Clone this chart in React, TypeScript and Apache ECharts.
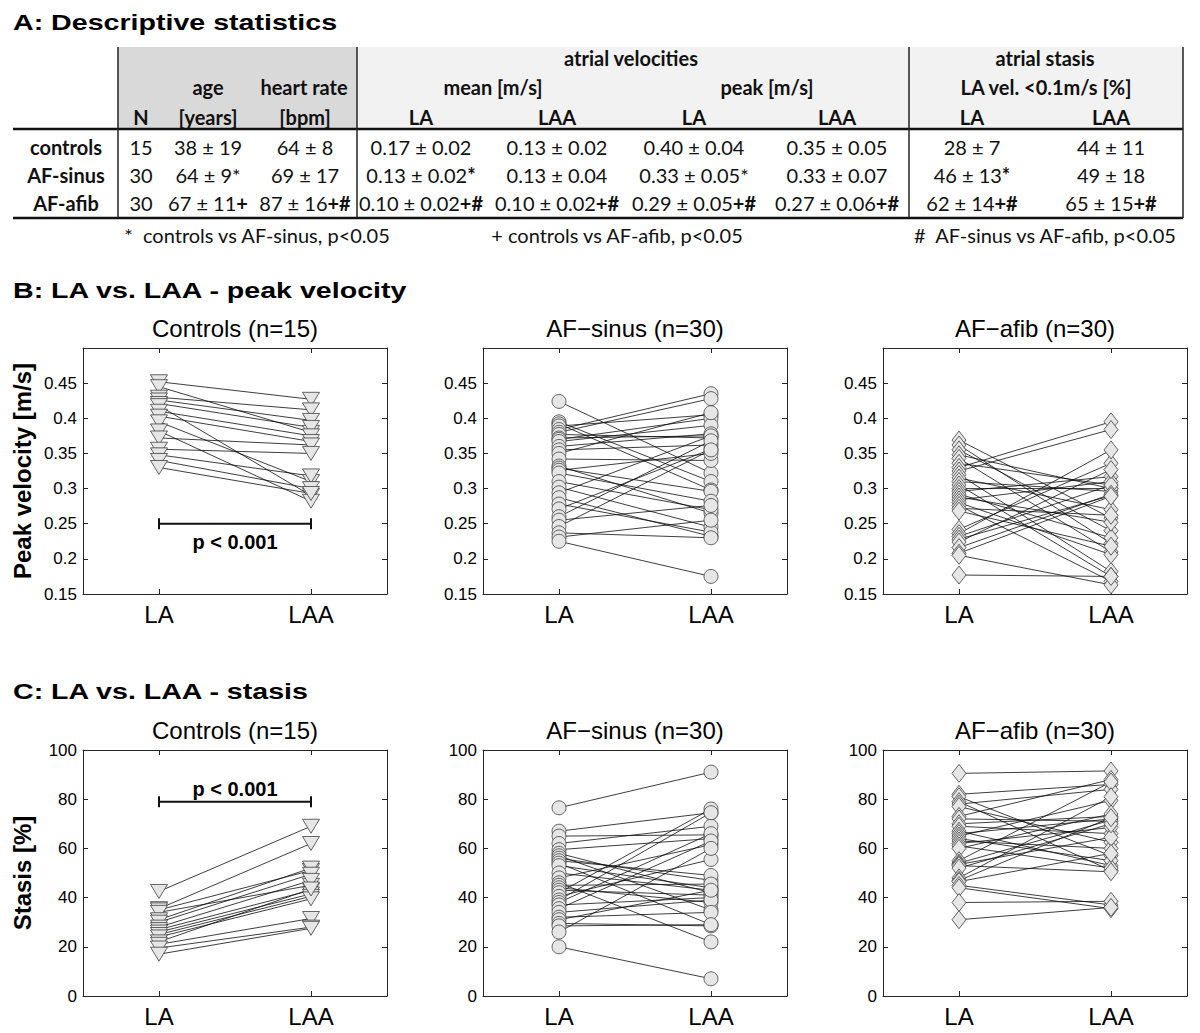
import React, { useEffect, useRef } from "react";
import * as echarts from "echarts";

// ---------------- DATA ----------------
const SITES = ["LA", "LAA"];
const GROUP_TITLES = ["Controls (n=15)", "AF\u2212sinus (n=30)", "AF\u2212afib (n=30)"];
const SECTION_TITLES = ["A: Descriptive statistics", "B: LA vs. LAA - peak velocity", "C: LA vs. LAA - stasis"];
const Y_TITLES = ["Peak velocity [m/s]", "Stasis [%]"];
const P_LABEL = "p < 0.001";
const P_BAR_VALUES = [0.25, 79];

// B: peak velocity [m/s]
const PEAK_CONTROLS_LA = [0.452, 0.445, 0.430, 0.426, 0.421, 0.418, 0.410, 0.403, 0.395, 0.382, 0.372, 0.356, 0.348, 0.340, 0.330];
const PEAK_CONTROLS_LAA = [0.427, 0.380, 0.412, 0.397, 0.387, 0.290, 0.375, 0.367, 0.310, 0.282, 0.362, 0.350, 0.318, 0.300, 0.293];
const PEAK_SINUS_LA = [0.424, 0.395, 0.392, 0.389, 0.384, 0.380, 0.377, 0.372, 0.370, 0.367, 0.360, 0.355, 0.350, 0.342, 0.332, 0.329, 0.326, 0.322, 0.310, 0.302, 0.294, 0.287, 0.278, 0.271, 0.260, 0.255, 0.246, 0.237, 0.231, 0.225];
const PEAK_SINUS_LAA = [0.322, 0.310, 0.298, 0.405, 0.435, 0.428, 0.372, 0.375, 0.400, 0.390, 0.378, 0.362, 0.408, 0.340, 0.265, 0.296, 0.350, 0.282, 0.270, 0.245, 0.375, 0.232, 0.238, 0.356, 0.368, 0.276, 0.355, 0.230, 0.255, 0.175];
const PEAK_AFIB_LA = [0.369, 0.362, 0.355, 0.348, 0.343, 0.336, 0.330, 0.325, 0.320, 0.315, 0.310, 0.305, 0.300, 0.296, 0.292, 0.288, 0.284, 0.280, 0.276, 0.272, 0.268, 0.242, 0.236, 0.232, 0.228, 0.224, 0.216, 0.208, 0.205, 0.177];
const PEAK_AFIB_LAA = [0.258, 0.222, 0.240, 0.300, 0.210, 0.305, 0.395, 0.384, 0.182, 0.270, 0.296, 0.175, 0.300, 0.317, 0.230, 0.252, 0.310, 0.206, 0.168, 0.262, 0.218, 0.336, 0.355, 0.305, 0.290, 0.327, 0.292, 0.289, 0.163, 0.175];

// C: stasis [%]
const STASIS_CONTROLS_LA = [42.5, 35.5, 35, 34, 31, 30, 28, 27, 26, 25, 24, 22, 21, 19.5, 17];
const STASIS_CONTROLS_LAA = [69, 62, 51, 45, 52, 49.5, 47, 43, 41.5, 40.5, 39.5, 43.5, 31.5, 28, 27.5];
const STASIS_SINUS_LA = [76.5, 67, 65, 62, 59.5, 58, 57, 56, 55, 54, 53, 50, 48, 46, 45, 44, 43, 42, 40.5, 39, 38, 37, 35.5, 34, 32, 31, 29.5, 28.5, 26, 20];
const STASIS_SINUS_LAA = [91, 74.5, 65.5, 69, 64, 42, 35, 47, 49, 29, 44, 43, 61.5, 22, 45.5, 38, 41, 76, 55.5, 74.5, 66, 40, 63, 39, 34, 43, 28.5, 29, 60, 7];
const STASIS_AFIB_LA = [90.5, 82, 81, 79, 78, 77, 73, 72, 70, 69, 67, 66, 65, 64, 63, 62, 61, 60, 55, 54, 53.5, 53, 52, 48, 47, 46.5, 45, 44, 38, 31];
const STASIS_AFIB_LAA = [91.5, 86, 57, 51, 84, 62.5, 88, 71, 73, 66, 53, 72, 79.5, 55, 60, 68.5, 52, 74, 87, 71.5, 64.5, 50.5, 70, 81, 72.5, 58, 37, 35.5, 38.5, 36];

// A: table
const TABLE_GROUPS = ["controls", "AF-sinus", "AF-afib"];
const TABLE_N = ["15", "30", "30"];
const AGE = ["38 ± 19", "64 ± 9", "67 ± 11"];
const AGE_SIG = ["", "*", "+"];
const HEART_RATE = ["64 ± 8", "69 ± 17", "87 ± 16"];
const HEART_RATE_SIG = ["", "", "+#"];
const MEAN_LA = ["0.17 ± 0.02", "0.13 ± 0.02", "0.10 ± 0.02"];
const MEAN_LA_SIG = ["", "*", "+#"];
const MEAN_LAA = ["0.13 ± 0.02", "0.13 ± 0.04", "0.10 ± 0.02"];
const MEAN_LAA_SIG = ["", "", "+#"];
const PEAK_LA = ["0.40 ± 0.04", "0.33 ± 0.05", "0.29 ± 0.05"];
const PEAK_LA_SIG = ["", "*", "+#"];
const PEAK_LAA = ["0.35 ± 0.05", "0.33 ± 0.07", "0.27 ± 0.06"];
const PEAK_LAA_SIG = ["", "", "+#"];
const STASIS_LA = ["28 ± 7", "46 ± 13", "62 ± 14"];
const STASIS_LA_SIG = ["", "*", "+#"];
const STASIS_LAA = ["44 ± 11", "49 ± 18", "65 ± 15"];
const STASIS_LAA_SIG = ["", "", "+#"];
const HEAD_ROW1 = ["atrial velocities", "atrial stasis"];
const HEAD_ROW2 = ["age", "heart rate", "mean [m/s]", "peak [m/s]", "LA vel. <0.1m/s [%]"];
const HEAD_ROW3 = ["N", "[years]", "[bpm]", "LA", "LAA", "LA", "LAA", "LA", "LAA"];
const FOOTNOTES = ["*  controls vs AF-sinus, p<0.05", "+ controls vs AF-afib, p<0.05", "#  AF-sinus vs AF-afib, p<0.05"];

// ---------------- LAYOUT / STYLE ----------------
const AX_FONT = "'Liberation Sans', Arial, Helvetica, sans-serif";
const TB_FONT = "Lato, 'Open Sans', sans-serif";
const PANEL_LEFTS = [83, 483, 883];
const PANEL_W = 304;
const PANEL_H = 246;
const ROW_TOPS = [348, 750];
const SECTION_Y = [22, 290, 691];
const TITLE_SCALE_X = 1.3;

const H1_X = [631, 1045];
const H2_X = [208, 304, 493, 767, 1046];
const H3_X = [141, 208, 305, 421, 557, 694, 837, 972, 1111];
const HEAD_Y = [58, 87, 117];
const ROW_Y = [147, 175, 203];
const FOOT_Y = 235;
const FOOT_X = [257, 617, 1045];
const TABLE_L = 13, TABLE_R = 1183, TABLE_TOP = 47, HEAD_BOTTOM = 129, TABLE_BOTTOM = 218;
const VLINES = [118, 357, 909, 1183];
const TB_SIZE = 20;

const MARKERS = [
  { symbol: "triangle", symbolSize: [17, 14], symbolRotate: 180 },
  { symbol: "circle", symbolSize: 14, symbolRotate: 0 },
  { symbol: "diamond", symbolSize: [14, 18], symbolRotate: 0 },
];

const PANELS = [
  { row: 0, col: 0, la: PEAK_CONTROLS_LA, laa: PEAK_CONTROLS_LAA },
  { row: 0, col: 1, la: PEAK_SINUS_LA, laa: PEAK_SINUS_LAA },
  { row: 0, col: 2, la: PEAK_AFIB_LA, laa: PEAK_AFIB_LAA },
  { row: 1, col: 0, la: STASIS_CONTROLS_LA, laa: STASIS_CONTROLS_LAA },
  { row: 1, col: 1, la: STASIS_SINUS_LA, laa: STASIS_SINUS_LAA },
  { row: 1, col: 2, la: STASIS_AFIB_LA, laa: STASIS_AFIB_LAA },
];

const Y_SCALES = [
  { min: 0.15, max: 0.5, interval: 0.05, fmt: (v: number) => (v > 0.49 ? "" : String(Number(v.toFixed(2)))) },
  { min: 0, max: 100, interval: 20, fmt: (v: number) => String(Math.round(v)) },
];

function buildOption() {
  const grid: any[] = [];
  const xAxis: any[] = [];
  const yAxis: any[] = [];
  const series: any[] = [];
  const graphic: any[] = [];

  const lineCol = "#262626";

  PANELS.forEach((p, i) => {
    grid.push({ left: PANEL_LEFTS[p.col], top: ROW_TOPS[p.row], width: PANEL_W, height: PANEL_H, containLabel: false });
    const xBase = {
      type: "category", gridIndex: i, data: SITES, boundaryGap: true,
      axisLine: { show: true, onZero: false, lineStyle: { color: lineCol, width: 1 } },
      axisTick: { show: true, inside: true, alignWithLabel: true, length: 5, lineStyle: { color: lineCol } },
      splitLine: { show: false },
    };
    xAxis.push({ ...xBase, position: "bottom", axisLabel: { show: true, fontSize: 24, color: "#000", fontFamily: AX_FONT, margin: 8 } });
    xAxis.push({ ...xBase, position: "top", axisLabel: { show: false } });
    const ys = Y_SCALES[p.row];
    const yBase = {
      type: "value", gridIndex: i, min: ys.min, max: ys.max, interval: ys.interval,
      axisLine: { show: true, lineStyle: { color: lineCol, width: 1 } },
      axisTick: { show: true, inside: true, length: 5, lineStyle: { color: lineCol } },
      splitLine: { show: false },
    };
    yAxis.push({ ...yBase, position: "left", axisLabel: { show: true, fontSize: 17, color: "#000", fontFamily: AX_FONT, margin: 6, formatter: ys.fmt } });
    yAxis.push({ ...yBase, position: "right", axisLabel: { show: false } });

    const m = MARKERS[p.col];
    p.la.forEach((v, k) => {
      series.push({
        type: "line", xAxisIndex: 2 * i, yAxisIndex: 2 * i, silent: true,
        data: [[SITES[0], v], [SITES[1], p.laa[k]]],
        symbol: m.symbol, symbolSize: m.symbolSize, symbolRotate: m.symbolRotate, showSymbol: true,
        lineStyle: { color: "#0d0d0d", width: 0.8 },
        itemStyle: { color: "#e6e6e6", borderColor: "#404040", borderWidth: 0.8 },
        emphasis: { disabled: true }, z: 2,
      });
    });

    // panel title
    graphic.push({
      type: "text", x: PANEL_LEFTS[p.col] + PANEL_W / 2, y: ROW_TOPS[p.row] - 20,
      style: { text: GROUP_TITLES[p.col], fontSize: 24, fontFamily: AX_FONT, fill: "#000", align: "center", verticalAlign: "middle" },
    });
  });

  // significance brackets (controls panels)
  [0, 3].forEach((pi, r) => {
    const yv = P_BAR_VALUES[r];
    series.push({
      type: "line", xAxisIndex: 2 * pi, yAxisIndex: 2 * pi, silent: true, z: 5,
      data: [[SITES[0], yv], [SITES[1], yv]],
      symbol: "rect", symbolSize: [2, 11], showSymbol: true,
      lineStyle: { color: "#111", width: 2 }, itemStyle: { color: "#111" },
      markLine: {
        silent: true, symbol: ["none", "none"],
        lineStyle: { color: "rgba(0,0,0,0)", width: 0 },
        label: {
          show: true, formatter: P_LABEL, position: r === 0 ? "insideMiddleBottom" : "insideMiddleTop",
          distance: r === 0 ? 8 : 3, fontSize: 20, fontWeight: "bold", color: "#000", fontFamily: AX_FONT,
        },
        data: [[{ coord: [SITES[0], yv] }, { coord: [SITES[1], yv] }]],
      },
    });
  });

  // section titles
  SECTION_TITLES.forEach((t, i) => {
    graphic.push({
      type: "text", x: 13, y: SECTION_Y[i], scaleX: TITLE_SCALE_X,
      style: { text: t, fontSize: 22, fontWeight: "bold", fontFamily: AX_FONT, fill: "#000", align: "left", verticalAlign: "middle" },
    });
  });

  // y axis titles
  Y_TITLES.forEach((t, r) => {
    graphic.push({
      type: "text", x: 22, y: ROW_TOPS[r] + PANEL_H / 2, rotation: Math.PI / 2,
      style: { text: t, fontSize: 24, fontWeight: "bold", fontFamily: AX_FONT, fill: "#000", align: "center", verticalAlign: "middle" },
    });
  });

  // ---------- table ----------
  graphic.push({ type: "rect", shape: { x: VLINES[0], y: TABLE_TOP, width: VLINES[1] - VLINES[0], height: HEAD_BOTTOM - TABLE_TOP }, style: { fill: "#d9d9d9" }, z: 0 });
  graphic.push({ type: "rect", shape: { x: VLINES[1], y: TABLE_TOP, width: VLINES[3] - VLINES[1], height: HEAD_BOTTOM - TABLE_TOP }, style: { fill: "#f2f2f2" }, z: 0 });
  [HEAD_BOTTOM, TABLE_BOTTOM].forEach((y) => {
    graphic.push({ type: "line", shape: { x1: TABLE_L, y1: y, x2: TABLE_R, y2: y }, style: { stroke: "#111", lineWidth: 2.5 }, z: 2 });
  });
  VLINES.forEach((x) => {
    graphic.push({ type: "line", shape: { x1: x, y1: TABLE_TOP, x2: x, y2: TABLE_BOTTOM }, style: { stroke: "#222", lineWidth: 1.5 }, z: 2 });
  });
  const tText = (text: string, x: number, y: number, bold: boolean) => ({
    type: "text", x, y, z: 3,
    style: { text, fontSize: TB_SIZE, fontWeight: bold ? "bold" : "normal", fontFamily: TB_FONT, fill: "#111", align: "center", verticalAlign: "middle" },
  });
  HEAD_ROW1.forEach((t, i) => graphic.push(tText(t, H1_X[i], HEAD_Y[0], true)));
  HEAD_ROW2.forEach((t, i) => graphic.push(tText(t, H2_X[i], HEAD_Y[1], true)));
  HEAD_ROW3.forEach((t, i) => graphic.push(tText(t, H3_X[i], HEAD_Y[2], true)));

  const columns = [
    { v: AGE, s: AGE_SIG, boldStar: false },
    { v: HEART_RATE, s: HEART_RATE_SIG, boldStar: false },
    { v: MEAN_LA, s: MEAN_LA_SIG, boldStar: true },
    { v: MEAN_LAA, s: MEAN_LAA_SIG, boldStar: false },
    { v: PEAK_LA, s: PEAK_LA_SIG, boldStar: false },
    { v: PEAK_LAA, s: PEAK_LAA_SIG, boldStar: false },
    { v: STASIS_LA, s: STASIS_LA_SIG, boldStar: true },
    { v: STASIS_LAA, s: STASIS_LAA_SIG, boldStar: false },
  ];
  TABLE_GROUPS.forEach((g, r) => {
    graphic.push(tText(g, 66, ROW_Y[r], true));
    graphic.push(tText(TABLE_N[r], H3_X[0], ROW_Y[r], false));
    columns.forEach((c, ci) => {
      const sig = c.s[r];
      const boldSig = sig.indexOf("+") >= 0 || sig.indexOf("#") >= 0 || c.boldStar;
      const text = sig ? `{v|${c.v[r]}}{${boldSig ? "b" : "v"}|${sig}}` : `{v|${c.v[r]}}`;
      graphic.push({
        type: "text", x: H3_X[ci + 1], y: ROW_Y[r], z: 3,
        style: {
          text, fontSize: TB_SIZE, fontFamily: TB_FONT, fill: "#111", align: "center", verticalAlign: "middle",
          rich: {
            v: { fontSize: TB_SIZE, fontFamily: TB_FONT, fill: "#111" },
            b: { fontSize: TB_SIZE, fontFamily: TB_FONT, fill: "#111", fontWeight: "bold" },
          },
        },
      });
    });
  });
  FOOTNOTES.forEach((f, i) => graphic.push(tText(f, FOOT_X[i], FOOT_Y, false)));

  return {
    animation: false,
    backgroundColor: "#ffffff",
    grid, xAxis, yAxis, series, graphic,
  };
}

export default function App() {
  const ref = useRef<HTMLDivElement>(null);
  useEffect(() => {
    if (!ref.current) return;
    const chart = echarts.init(ref.current, undefined, { renderer: "svg" });
    chart.setOption(buildOption() as any);
    return () => chart.dispose();
  }, []);
  return (
    <div
      ref={ref}
      style={{ position: "absolute", left: 0, top: 0, width: 1200, height: 1033, background: "#fff" }}
    />
  );
}
